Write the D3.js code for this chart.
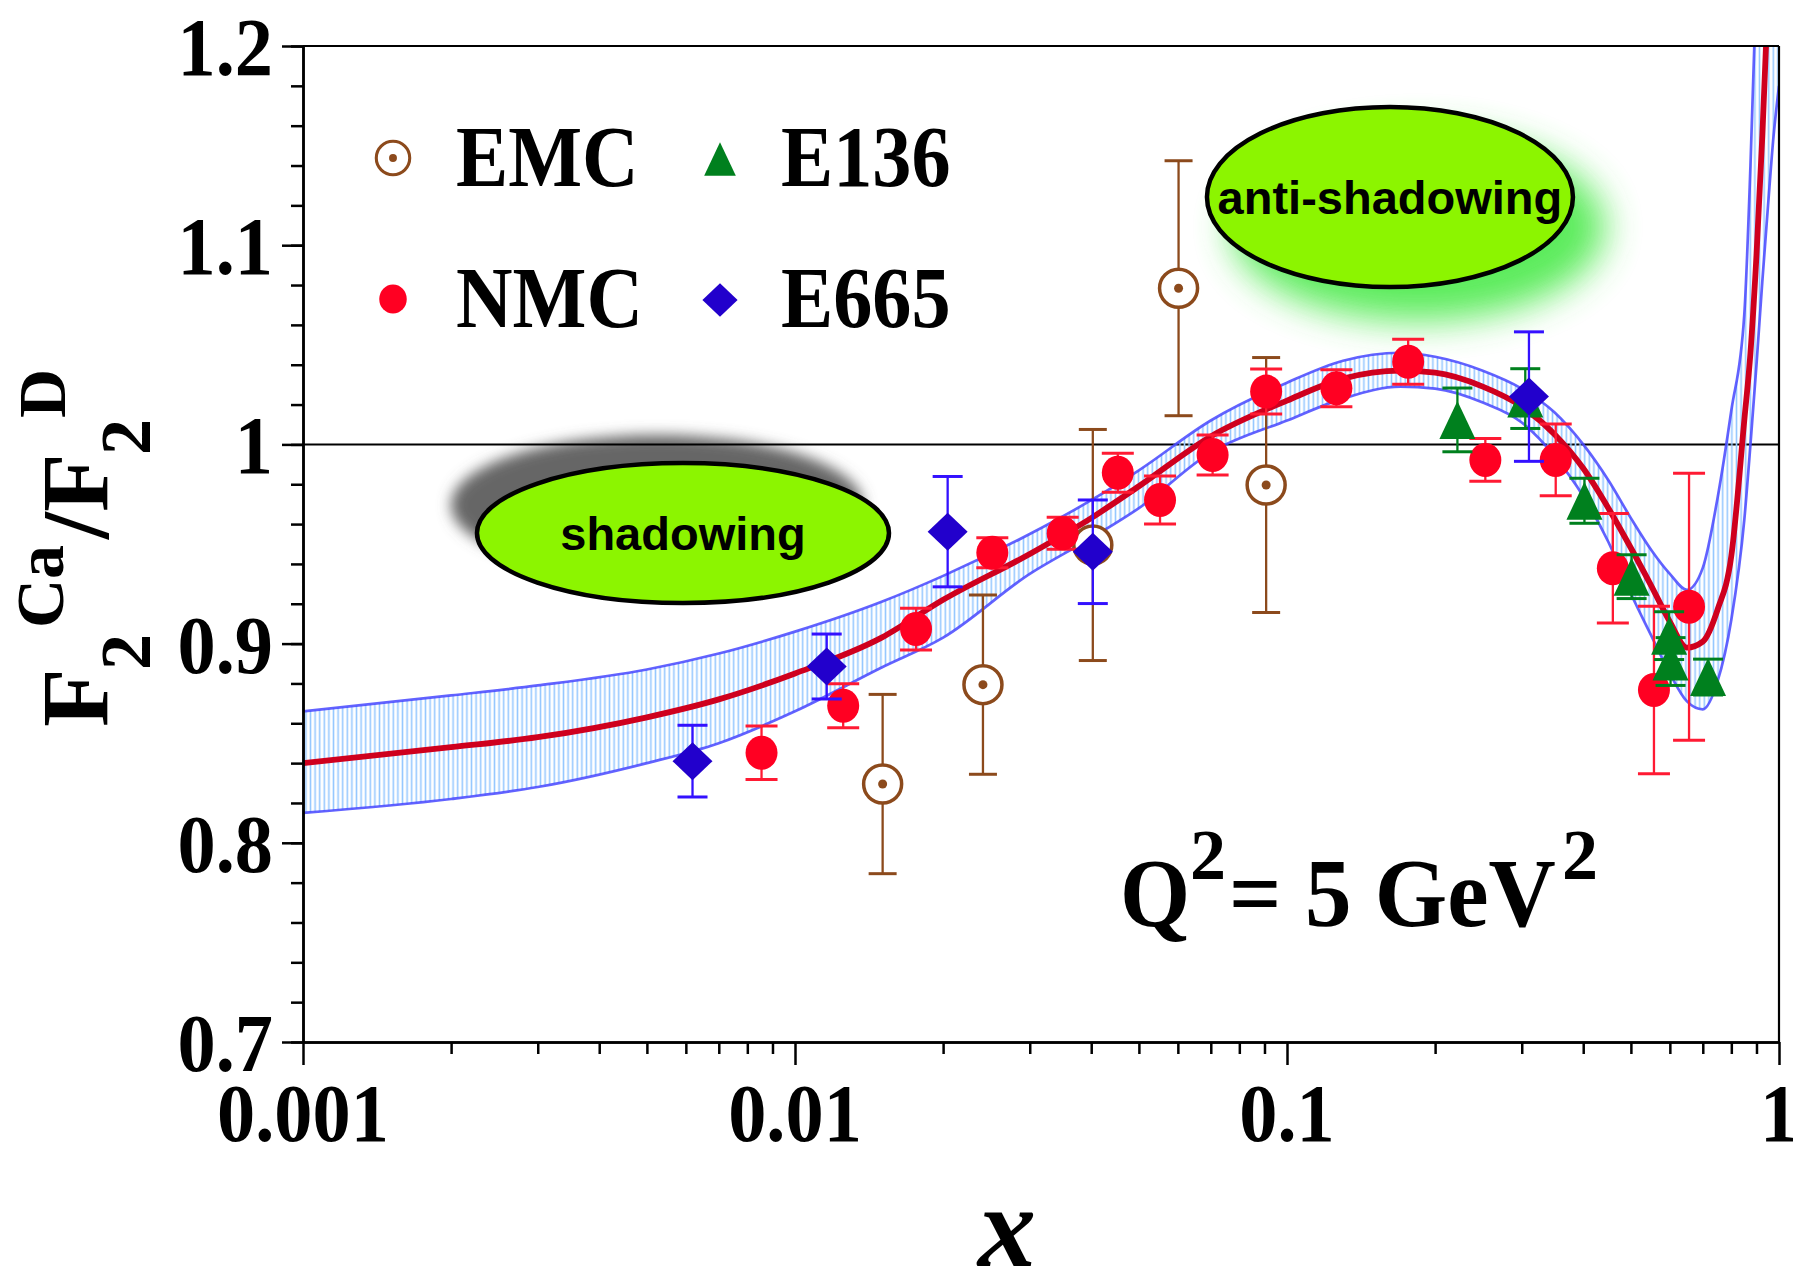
<!DOCTYPE html>
<html>
<head>
<meta charset="utf-8">
<script src="https://cdn.jsdelivr.net/npm/d3@7"></script>
<style>
  html, body { margin: 0; padding: 0; background: #fff; }
  svg { display: block; }
</style>
</head>
<body>
<svg id="chart" width="1793" height="1275"></svg>
<script>
// ---------------- DATA ----------------
const xTickValues = [0.001, 0.01, 0.1, 1];
const xTickLabels = ["0.001", "0.01", "0.1", "1"];
const yTickValues = [0.7, 0.8, 0.9, 1.0, 1.1, 1.2];
const yTickLabels = ["0.7", "0.8", "0.9", "1", "1.1", "1.2"];

// theory curve (central value and uncertainty band)
const curveX       = [0.001, 0.002, 0.003, 0.005, 0.007, 0.01, 0.015, 0.02, 0.03, 0.04, 0.05, 0.07, 0.1, 0.13, 0.17, 0.2, 0.25, 0.3, 0.35, 0.4, 0.45, 0.5, 0.55, 0.6, 0.65, 0.7, 0.75, 0.8, 0.85, 0.875, 0.9, 0.925, 0.95, 0.975, 1.0];
const curveCentral = [0.840, 0.848, 0.853, 0.863, 0.872, 0.885, 0.903, 0.922, 0.945, 0.963, 0.979, 1.004, 1.022, 1.033, 1.037, 1.036, 1.029, 1.019, 1.005, 0.988, 0.968, 0.948, 0.929, 0.911, 0.898, 0.901, 0.917, 0.944, 1.012, 1.046, 1.095, 1.155, 1.225, 1.31, 1.40];
const curveUpper   = [0.866, 0.874, 0.879, 0.887, 0.895, 0.906, 0.921, 0.934, 0.955, 0.972, 0.987, 1.012, 1.031, 1.042, 1.046, 1.044, 1.037, 1.028, 1.016, 1.000, 0.982, 0.963, 0.947, 0.935, 0.927, 0.938, 0.973, 1.017, 1.065, 1.14, 1.235, 1.33, 1.43, 1.53, 1.63];
const curveLower   = [0.815, 0.822, 0.828, 0.840, 0.850, 0.866, 0.888, 0.903, 0.935, 0.953, 0.968, 0.996, 1.012, 1.023, 1.029, 1.028, 1.021, 1.011, 0.994, 0.974, 0.951, 0.925, 0.904, 0.885, 0.871, 0.867, 0.881, 0.912, 0.962, 1.000, 1.040, 1.082, 1.120, 1.155, 1.180];

// EMC
const emcX   = [0.01507, 0.0241, 0.0403, 0.0602, 0.0907];
const emcY   = [0.8295, 0.8794, 0.9495, 1.0784, 0.9796];
const emcErr = [0.045, 0.045, 0.058, 0.064, 0.064];

// NMC
const nmcX   = [0.00855, 0.01253, 0.01762, 0.02518, 0.0350, 0.0453, 0.0552, 0.0706, 0.0907, 0.126, 0.1763, 0.253, 0.3517, 0.4595, 0.557, 0.6564];
const nmcY   = [0.8452, 0.8688, 0.9073, 0.9456, 0.9554, 0.9858, 0.9721, 0.9947, 1.0265, 1.0282, 1.0415, 0.9922, 0.9922, 0.9378, 0.8767, 0.9185];
const nmcErr = [0.0134, 0.011, 0.0105, 0.0075, 0.008, 0.0098, 0.012, 0.010, 0.0113, 0.0093, 0.0113, 0.0107, 0.018, 0.0275, 0.042, 0.067];

// E136
const e136X   = [0.222, 0.305, 0.4023, 0.5017, 0.598, 0.602, 0.7175];
const e136Y   = [1.0123, 1.023, 0.9717, 0.9336, 0.904, 0.891, 0.8832];
const e136Err = [0.016, 0.015, 0.0113, 0.011, 0.012, 0.012, 0.009];

// E665
const e665X   = [0.00619, 0.0116, 0.02043, 0.0403, 0.3103];
const e665Y   = [0.841, 0.8885, 0.9562, 0.9461, 1.024];
const e665Err = [0.018, 0.0163, 0.0277, 0.026, 0.0325];

// annotations (data coordinates of the ellipse centres)
const annotText = ["shadowing", "anti-shadowing"];
const annotX = [0.00592, 0.1619];
const annotY = [0.9555, 1.1242];

// ---------------- CHART ----------------
const serif = "'Liberation Serif','Times New Roman',Times,serif";
const sans = "'Liberation Sans',Arial,Helvetica,sans-serif";
const svg = d3.select("#chart");
const L = 303, R = 1779, T = 46, B = 1042;
const x = d3.scaleLog().domain([0.001, 1]).range([L, R]);
const y = d3.scaleLinear().domain([0.7, 1.2]).range([B, T]);

const defs = svg.append("defs");
defs.append("clipPath").attr("id", "plotClip")
  .append("rect").attr("x", L).attr("y", T).attr("width", R - L).attr("height", B - T);
const pat = defs.append("pattern").attr("id", "hatch")
  .attr("patternUnits", "userSpaceOnUse").attr("width", 4.6).attr("height", 10);
pat.append("line").attr("x1", 2.3).attr("x2", 2.3).attr("y1", 0).attr("y2", 10)
  .attr("stroke", "#96c8ff").attr("stroke-width", 1.6);
const fGray = defs.append("filter").attr("id", "blurGray")
  .attr("x", "-30%").attr("y", "-60%").attr("width", "160%").attr("height", "220%");
fGray.append("feGaussianBlur").attr("stdDeviation", 7);
const fGreen = defs.append("filter").attr("id", "blurGreen")
  .attr("x", "-40%").attr("y", "-80%").attr("width", "180%").attr("height", "260%");
fGreen.append("feGaussianBlur").attr("stdDeviation", 18);

// ---- annotation ellipses ----
const annG = svg.append("g");
const ellR = [[206, 70], [183, 90]];
// shadowing: gray shadow up-left
annG.append("ellipse")
  .attr("cx", x(annotX[0]) - 26).attr("cy", y(annotY[0]) - 28)
  .attr("rx", ellR[0][0]).attr("ry", ellR[0][1])
  .attr("fill", "#666").attr("filter", "url(#blurGray)");
// anti-shadowing: green glow down-right
annG.append("ellipse")
  .attr("cx", x(annotX[1]) + 28).attr("cy", y(annotY[1]) + 30)
  .attr("rx", ellR[1][0] + 4).attr("ry", ellR[1][1] + 4)
  .attr("fill", "#3fe83f").attr("opacity", 0.85).attr("filter", "url(#blurGreen)");
annotText.forEach((t, i) => {
  annG.append("ellipse")
    .attr("cx", x(annotX[i])).attr("cy", y(annotY[i]))
    .attr("rx", ellR[i][0]).attr("ry", ellR[i][1])
    .attr("fill", "#8cf500").attr("stroke", "#000").attr("stroke-width", 4.5);
  annG.append("text")
    .attr("x", x(annotX[i])).attr("y", y(annotY[i]) + 17)
    .attr("text-anchor", "middle")
    .attr("font-family", sans).attr("font-weight", "bold").attr("font-size", 47)
    .attr("fill", "#000").text(t);
});

// ---- reference line at 1 ----
svg.append("line").attr("x1", L).attr("x2", R).attr("y1", y(1)).attr("y2", y(1))
  .attr("stroke", "#000").attr("stroke-width", 2);

// ---- theory band & curve ----
const bandData = curveX.map((xv, i) => ({ x: xv, c: curveCentral[i], hi: curveUpper[i], lo: curveLower[i] }));
const cg = svg.append("g").attr("clip-path", "url(#plotClip)");
const area = d3.area().x(d => x(d.x)).y0(d => y(d.lo)).y1(d => y(d.hi)).curve(d3.curveMonotoneX);
cg.append("path").datum(bandData).attr("d", area).attr("fill", "url(#hatch)");
const lineHi = d3.line().x(d => x(d.x)).y(d => y(d.hi)).curve(d3.curveMonotoneX);
const lineLo = d3.line().x(d => x(d.x)).y(d => y(d.lo)).curve(d3.curveMonotoneX);
const lineC = d3.line().x(d => x(d.x)).y(d => y(d.c)).curve(d3.curveMonotoneX);
[lineHi, lineLo].forEach(g => cg.append("path").datum(bandData).attr("d", g)
  .attr("fill", "none").attr("stroke", "#4646ff").attr("stroke-width", 2.7).attr("opacity", 0.85));
cg.append("path").datum(bandData).attr("d", lineC)
  .attr("fill", "none").attr("stroke", "#cf001e").attr("stroke-width", 5.8);

// ---- markers ----
function drawMarker(g, type, cx, cy, s) {
  if (type === "EMC") {
    g.append("circle").attr("cx", cx).attr("cy", cy).attr("r", 19 * s)
      .attr("fill", "#fff").attr("stroke", "#8c4a1c").attr("stroke-width", 3.5 * s);
    g.append("circle").attr("cx", cx).attr("cy", cy).attr("r", 4.5 * s).attr("fill", "#8c4a1c");
  } else if (type === "NMC") {
    g.append("ellipse").attr("cx", cx).attr("cy", cy).attr("rx", 16 * s).attr("ry", 17 * s)
      .attr("fill", "#ff0022");
  } else if (type === "E136") {
    const hw = 18 * s, h = 38 * s;
    g.append("path")
      .attr("d", `M${cx},${cy - h / 2}L${cx + hw},${cy + h / 2}L${cx - hw},${cy + h / 2}Z`)
      .attr("fill", "#00801e");
  } else if (type === "E665") {
    const hw = 20 * s, hh = 19 * s;
    g.append("path")
      .attr("d", `M${cx},${cy - hh}L${cx + hw},${cy}L${cx},${cy + hh}L${cx - hw},${cy}Z`)
      .attr("fill", "#2200cc");
  }
}

const seriesList = [
  { name: "EMC",  xs: emcX,  ys: emcY,  es: emcErr,  color: "#8c4a1c", cap: 14 },
  { name: "NMC",  xs: nmcX,  ys: nmcY,  es: nmcErr,  color: "#ff1a33", cap: 16 },
  { name: "E136", xs: e136X, ys: e136Y, es: e136Err, color: "#00801e", cap: 15 },
  { name: "E665", xs: e665X, ys: e665Y, es: e665Err, color: "#3311ff", cap: 15 }
];
const dg = svg.append("g");
seriesList.forEach(sr => {
  const g = dg.append("g");
  sr.xs.forEach((xv, i) => {
    const px = x(xv), yt = y(sr.ys[i] + sr.es[i]), yb = y(sr.ys[i] - sr.es[i]);
    g.append("line").attr("x1", px).attr("x2", px).attr("y1", yt).attr("y2", yb)
      .attr("stroke", sr.color).attr("stroke-width", 2.3);
    [yt, yb].forEach(yy => g.append("line")
      .attr("x1", px - sr.cap).attr("x2", px + sr.cap).attr("y1", yy).attr("y2", yy)
      .attr("stroke", sr.color).attr("stroke-width", 3));
  });
  sr.xs.forEach((xv, i) => drawMarker(g, sr.name, x(xv), y(sr.ys[i]), 1));
});

// ---- axes ----
const yMinor = d3.range(0.7, 1.2001, 0.02).map(v => +v.toFixed(2));
const xMinor = [];
[0.001, 0.01, 0.1].forEach(d => { for (let k = 2; k <= 9; k++) xMinor.push(+(d * k).toPrecision(3)); });

function styleAxis(g) {
  g.selectAll("path").attr("stroke", "#000").attr("stroke-width", 2.5);
  g.selectAll("line").attr("stroke", "#000").attr("stroke-width", 2.5);
  g.selectAll("text").remove();
}
svg.append("g").attr("transform", `translate(${L},0)`)
  .call(d3.axisLeft(y).tickValues(yMinor).tickSize(12).tickSizeOuter(0).tickFormat(""))
  .call(styleAxis);
svg.append("g").attr("transform", `translate(${L},0)`)
  .call(d3.axisLeft(y).tickValues(yTickValues).tickSize(21).tickSizeOuter(0).tickFormat(""))
  .call(styleAxis);
svg.append("g").attr("transform", `translate(0,${B})`)
  .call(d3.axisBottom(x).tickValues(xMinor).tickSize(12).tickSizeOuter(0).tickFormat(""))
  .call(styleAxis);
svg.append("g").attr("transform", `translate(0,${B})`)
  .call(d3.axisBottom(x).tickValues(xTickValues).tickSize(23).tickSizeOuter(0).tickFormat(""))
  .call(styleAxis);
// frame top / right
svg.append("line").attr("x1", L).attr("x2", R).attr("y1", T).attr("y2", T)
  .attr("stroke", "#000").attr("stroke-width", 2.2);
svg.append("line").attr("x1", R).attr("x2", R).attr("y1", T).attr("y2", B)
  .attr("stroke", "#000").attr("stroke-width", 2.2);

// tick labels
yTickValues.forEach((v, i) => {
  svg.append("text")
    .attr("transform", `translate(${L - 30},${y(v) + 29}) scale(0.92,1)`)
    .attr("text-anchor", "end")
    .attr("font-family", serif).attr("font-weight", "bold").attr("font-size", 83)
    .attr("fill", "#000").text(yTickLabels[i]);
});
xTickValues.forEach((v, i) => {
  svg.append("text")
    .attr("transform", `translate(${x(v)},1141) scale(0.92,1)`)
    .attr("text-anchor", "middle")
    .attr("font-family", serif).attr("font-weight", "bold").attr("font-size", 83)
    .attr("fill", "#000").text(xTickLabels[i]);
});

// axis titles
svg.append("text").attr("x", 1007).attr("y", 1266).attr("text-anchor", "middle")
  .attr("font-family", serif).attr("font-weight", "bold").attr("font-style", "italic")
  .attr("font-size", 116).attr("fill", "#000").text("x");

const yl = svg.append("text").attr("transform", "translate(108,727) rotate(-90)")
  .attr("font-family", serif).attr("font-weight", "bold").attr("fill", "#000");
yl.append("tspan").attr("x", 0).attr("y", 0).attr("font-size", 96).text("F");
yl.append("tspan").attr("x", 57).attr("y", 42).attr("font-size", 72).text("2");
yl.append("tspan").attr("x", 99).attr("y", -45).attr("font-size", 68).text("Ca");
yl.append("tspan").attr("x", 188).attr("y", 0).attr("font-size", 96).text("/");
yl.append("tspan").attr("x", 215).attr("y", 0).attr("font-size", 96).text("F");
yl.append("tspan").attr("x", 272).attr("y", 42).attr("font-size", 72).text("2");
yl.append("tspan").attr("x", 309).attr("y", -43).attr("font-size", 68).text("D");

// ---- legend ----
const legend = [
  { name: "EMC",  mx: 393, my: 158, tx: 456, ty: 186 },
  { name: "NMC",  mx: 393, my: 299, tx: 456, ty: 327 },
  { name: "E136", mx: 720, my: 159, tx: 781, ty: 186 },
  { name: "E665", mx: 720, my: 300, tx: 781, ty: 327 }
];
const lg = svg.append("g");
legend.forEach(d => {
  drawMarker(lg, d.name, d.mx, d.my, d.name === "NMC" ? 0.86 : 0.88);
  lg.append("text").attr("transform", `translate(${d.tx},${d.ty}) scale(0.91,1)`)
    .attr("font-family", serif).attr("font-weight", "bold").attr("font-size", 86)
    .attr("fill", "#000").text(d.name);
});

// ---- Q^2 label ----
const qg = svg.append("g").attr("font-family", serif).attr("font-weight", "bold").attr("fill", "#000");
qg.append("text").attr("transform", "translate(1120,926) scale(0.92,1)").attr("font-size", 98).text("Q");
qg.append("text").attr("transform", "translate(1190,879)").attr("font-size", 72).text("2");
qg.append("text").attr("transform", "translate(1229,926) scale(0.94,1)").attr("font-size", 98).text("=");
qg.append("text").attr("transform", "translate(1305,926) scale(0.95,1)").attr("font-size", 98).text("5 GeV");
qg.append("text").attr("transform", "translate(1562,879)").attr("font-size", 72).text("2");
</script>
</body>
</html>
